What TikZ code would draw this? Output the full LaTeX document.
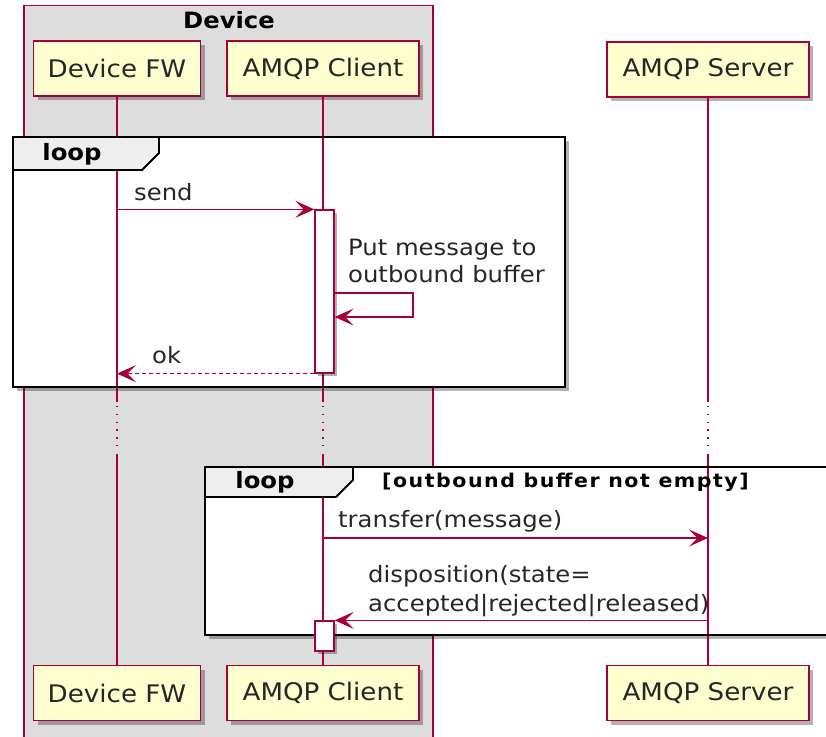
\documentclass[tikz,border=0pt]{standalone}
\usepackage{fontspec}
\setmainfont{DejaVu Sans}[FakeStretch=1.08]
\newfontfamily\condfont{DejaVu Sans}[FakeStretch=1.08,LetterSpace=8]
\usetikzlibrary{arrows.meta,shadows}
\definecolor{pu}{HTML}{A80036}
\definecolor{pfill}{HTML}{FEFECE}
\definecolor{grp}{HTML}{DDDDDD}
\definecolor{tabc}{HTML}{EEEEEE}
\tikzset{
  part/.style={draw=pu, line width=1.6pt, fill=pfill, minimum height=55pt, inner sep=0pt,
    font=\fontsize{24.2}{29}\selectfont, text=black!85,
    drop shadow={shadow xshift=4pt, shadow yshift=-4pt, fill=black, opacity=0.3}},
  actbox/.style={draw=pu, line width=1.3pt, fill=white, minimum width=19pt, inner sep=0pt,
    drop shadow={shadow xshift=3pt, shadow yshift=-3pt, fill=black, opacity=0.3}},
  life/.style={draw=pu, line width=1.2pt},
  lifedot/.style={draw=pu, line width=1.3pt, dash pattern=on 1.3pt off 6.5pt},
  msg/.style={draw=pu, line width=1.4pt, -{Stealth[length=19pt,width=17pt,inset=8.5pt]}},
  msgtext/.style={anchor=base west, inner sep=0pt, font=\fontsize{22.5}{27}\selectfont, text=black!85},
  loopframe/.style={draw=black, line width=2.8pt},
  looptab/.style={draw=black, line width=1.8pt, fill=tabc},
  looptext/.style={inner sep=0pt, font=\fontsize{22.5}{27}\selectfont\bfseries, text=black},
  condtext/.style={anchor=west, inner sep=0pt, font=\fontsize{19}{23}\condfont\bfseries, text=black},
}
\begin{document}
\begin{tikzpicture}[x=1pt,y=-1pt]
\clip (0,0) rectangle (826,736);
\fill[white] (0,0) rectangle (826,736);
% device group
\draw[draw=pu, fill=grp, line width=1.2pt] (24,5.5) rectangle (433,760);
\node[looptext] (devtitle) at (229,20) {Device};
% loop backgrounds with shadow
\fill[black, opacity=0.3] (17,141) rectangle (569,391);
\fill[white] (13,137) rectangle (565,387);
\fill[black, opacity=0.3] (209,471) rectangle (860,639);
\fill[white] (205,467) rectangle (856,635);
% participants
\node[part, minimum width=167pt] (fwT) at (117,68.5) {Device FW};
\node[part, minimum width=192pt] (clT) at (323,68.5) {AMQP Client};
\node[part, minimum width=202pt] (svT) at (708,69.5) {AMQP Server};
\node[part, minimum width=167pt] (fwB) at (117,693) {Device FW};
\node[part, minimum width=192pt] (clB) at (323,693) {AMQP Client};
\node[part, minimum width=202pt] (svB) at (708,693) {AMQP Server};
% lifelines
\coordinate (dB) at (0,402);
\coordinate (dC) at (0,451);
\foreach \p in {fw,cl,sv}{
  \draw[life] (\p T.south) -- (\p T.south |- dB);
  \draw[lifedot] ([yshift=-4pt]\p T.south |- dB) -- (\p T.south |- dC);
  \draw[life] ([yshift=-3pt]\p T.south |- dC) -- (\p B.north);
}
% loop frames
\draw[loopframe] (13,137) rectangle (565,387);
\draw[looptab] (13,137) -- (159,137) -- (159,153) -- (142,170) -- (13,170) -- cycle;
\node[looptext] (loop1) at (72,154) {loop};
\draw[loopframe] (205,467) rectangle (856,635);
\draw[looptab] (205,467) -- (353,467) -- (353,480) -- (336,497) -- (205,497) -- cycle;
\node[looptext] (loop2) at (265,482) {loop};
\node[condtext] (cond) at (382,482) {[outbound buffer not empty]};
% activations
\node[actbox, minimum height=163pt] (act1) at (324.5,291.5) {};
\node[actbox, minimum height=30pt] (act2) at (324.5,636) {};
% messages
\draw[msg] (fwT.south |- act1.north west) -- (act1.north west);
\node[msgtext] (sendt) at (134,200) {send};
\coordinate (s1) at (413,293);
\coordinate (s2) at (413,317);
\draw[msg] (act1.east |- s1) -- (s1) -- (s2) -- (act1.east |- s2);
\node[msgtext] (put1) at (348,255) {Put message to};
\node[msgtext] (put2) at (348,282) {outbound buffer};
\draw[msg, dash pattern=on 4pt off 3pt] (act1.south west) -- (fwT.south |- act1.south);
\node[msgtext] (okt) at (152,363) {ok};
\coordinate (tr) at (0,538);
\draw[msg] (clT.south |- tr) -- (svT.south |- tr);
\node[msgtext] (trt) at (338,527) {transfer(message)};
\draw[msg] (svT.south |- act2.north) -- (act2.north east);
\node[msgtext] (dis1) at (368,582) {disposition(state=};
\node[msgtext] (dis2) at (368,611) {accepted|rejected|released)};
\end{tikzpicture}
\end{document}
